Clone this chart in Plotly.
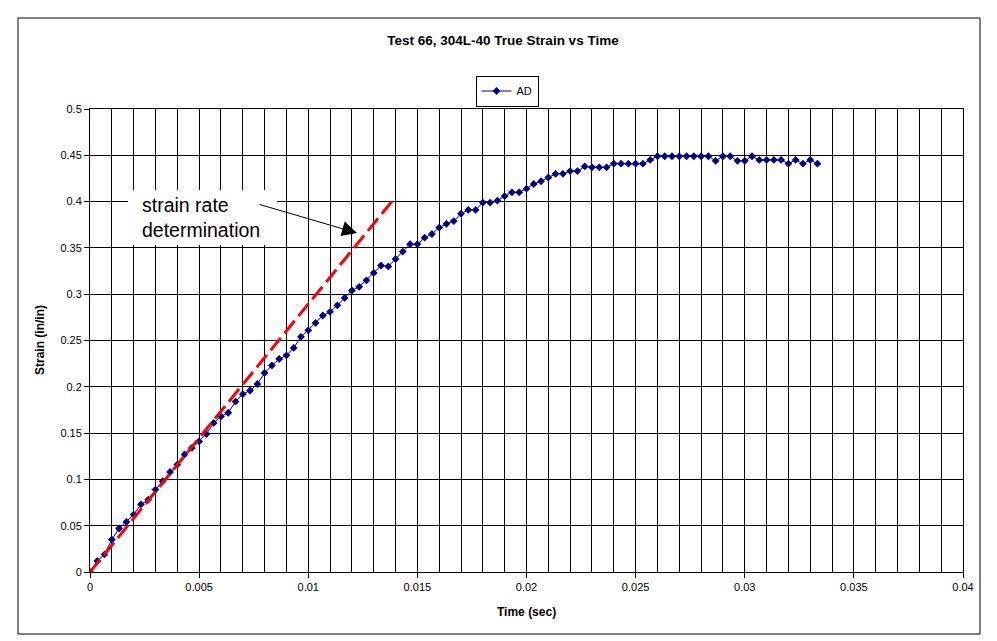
import plotly.graph_objects as go

# ---- data ----
time_sec = [
    0.000000, 0.000333, 0.000667, 0.001000, 0.001333, 0.001667, 0.002000, 0.002333, 0.002667, 0.003000,
    0.003333, 0.003667, 0.004000, 0.004333, 0.004667, 0.005000, 0.005333, 0.005667, 0.006000, 0.006333,
    0.006667, 0.007000, 0.007333, 0.007667, 0.008000, 0.008333, 0.008667, 0.009000, 0.009333, 0.009667,
    0.010000, 0.010333, 0.010667, 0.011000, 0.011333, 0.011667, 0.012000, 0.012333, 0.012667, 0.013000,
    0.013333, 0.013667, 0.014000, 0.014333, 0.014667, 0.015000, 0.015333, 0.015667, 0.016000, 0.016333,
    0.016667, 0.017000, 0.017333, 0.017667, 0.018000, 0.018333, 0.018667, 0.019000, 0.019333, 0.019667,
    0.020000, 0.020333, 0.020667, 0.021000, 0.021333, 0.021667, 0.022000, 0.022333, 0.022667, 0.023000,
    0.023333, 0.023667, 0.024000, 0.024333, 0.024667, 0.025000, 0.025333, 0.025667, 0.026000, 0.026333,
    0.026667, 0.027000, 0.027333, 0.027667, 0.028000, 0.028333, 0.028667, 0.029000, 0.029333, 0.029667,
    0.030000, 0.030333, 0.030667, 0.031000, 0.031333, 0.031667, 0.032000, 0.032333, 0.032667, 0.033000,
    0.033333,
]
strain_ad = [
    0.000, 0.012, 0.019, 0.035, 0.047, 0.054, 0.062, 0.073, 0.078, 0.089,
    0.098, 0.108, 0.116, 0.127, 0.134, 0.141, 0.149, 0.161, 0.168, 0.172,
    0.184, 0.192, 0.196, 0.203, 0.215, 0.223, 0.230, 0.234, 0.242, 0.254,
    0.261, 0.269, 0.277, 0.281, 0.288, 0.296, 0.304, 0.308, 0.315, 0.323,
    0.331, 0.330, 0.338, 0.346, 0.354, 0.354, 0.361, 0.365, 0.372, 0.376,
    0.379, 0.387, 0.391, 0.391, 0.399, 0.399, 0.401, 0.406, 0.410, 0.410,
    0.414, 0.419, 0.422, 0.426, 0.430, 0.430, 0.433, 0.433, 0.438, 0.437,
    0.437, 0.437, 0.441, 0.441, 0.441, 0.441, 0.441, 0.445, 0.449, 0.449,
    0.449, 0.449, 0.449, 0.449, 0.449, 0.449, 0.444, 0.449, 0.449, 0.444,
    0.444, 0.449, 0.445, 0.445, 0.445, 0.445, 0.441, 0.445, 0.441, 0.445,
    0.441,
]
rate_line_t = [0.0, 0.01397]
rate_line_s = [0.0, 0.4042]

series_name = "AD"
chart_title = "Test 66, 304L-40 True Strain vs Time"
x_title = "Time (sec)"
y_title = "Strain (in/in)"
note_text = "strain rate<br>determination"

FONT = "Liberation Sans, Arial, sans-serif"

fig = go.Figure()
fig.add_trace(go.Scatter(
    x=time_sec, y=strain_ad, name=series_name, mode="lines+markers",
    line=dict(color="#000080", width=1),
    marker=dict(symbol="diamond", size=6, color="#000080"),
))
fig.add_trace(go.Scatter(
    x=rate_line_t, y=rate_line_s, mode="lines", showlegend=False,
    line=dict(color="#FF0000", width=3, dash="16px,6px"),
    hoverinfo="skip",
))

fig.update_layout(
    width=997, height=641,
    margin=dict(l=90, r=34, t=109, b=69),
    paper_bgcolor="white", plot_bgcolor="white",
    font=dict(family=FONT, size=11, color="black"),
    title=dict(text="<b>" + chart_title + "</b>", x=0.5045, xanchor="center",
               y=1 - 40 / 641, yanchor="middle", yref="container",
               font=dict(size=13.5, family=FONT, color="black")),
    legend=dict(x=(507 - 90) / 873, xanchor="center", y=(572 - 91) / 463, yanchor="middle",
                bordercolor="black", borderwidth=1, bgcolor="white",
                font=dict(size=11, family=FONT), itemwidth=30),
    showlegend=True,
)
fig.update_xaxes(
    range=[0, 0.04], dtick=0.005, tick0=0, showgrid=True, gridcolor="black", gridwidth=1,
    minor=dict(dtick=0.001, tick0=0, showgrid=True, gridcolor="black", gridwidth=1),
    showline=True, linecolor="black", linewidth=1, mirror=True,
    ticks="outside", ticklen=5, tickcolor="black", zeroline=False,
    tickfont=dict(size=11, family=FONT),
)
fig.update_yaxes(
    range=[0, 0.5], dtick=0.05, tick0=0, showgrid=True, gridcolor="black", gridwidth=1,
    showline=True, linecolor="black", linewidth=1, mirror=True,
    ticks="outside", ticklen=5, tickcolor="black", zeroline=False,
    tickfont=dict(size=11, family=FONT),
)

# axis titles
fig.add_annotation(text="<b>" + x_title + "</b>", xref="paper", yref="paper",
                   x=(526 - 90) / 873, y=(572 - 612) / 463, showarrow=False,
                   xanchor="center", yanchor="middle", font=dict(size=12, family=FONT))
fig.add_annotation(text="<b>" + y_title + "</b>", xref="paper", yref="paper",
                   x=(40 - 90) / 873, y=(572 - 340) / 463, showarrow=False, textangle=-90,
                   xanchor="center", yanchor="middle", font=dict(size=12, family=FONT))

# white box behind the note
fig.add_shape(type="rect", xref="paper", yref="paper",
              x0=(128 - 90) / 873, x1=(277 - 90) / 873,
              y0=(572 - 245) / 463, y1=(572 - 190) / 463,
              fillcolor="white", line=dict(width=0), layer="above")
fig.add_annotation(text=note_text, xref="x", yref="y", x=(140 - 90) / 21825, y=(572 - 217) / 926,
                   showarrow=False, xanchor="left", yanchor="middle", align="left",
                   font=dict(size=19.5, family=FONT, color="black"))
# arrow
fig.add_annotation(text="", xref="x", yref="y", x=(357 - 90) / 21825, y=(572 - 233) / 926,
                   axref="x", ayref="y", ax=(258 - 90) / 21825, ay=(572 - 204) / 926,
                   showarrow=True, arrowhead=2, arrowsize=3, arrowwidth=1, arrowcolor="black")

# outer chart border
fig.add_shape(type="rect", xref="paper", yref="paper",
              x0=(18 - 90) / 873, x1=(980 - 90) / 873,
              y0=(572 - 634) / 463, y1=(572 - 18) / 463,
              line=dict(color="black", width=1), fillcolor="rgba(0,0,0,0)", layer="above")

fig.write_html("out.html")
